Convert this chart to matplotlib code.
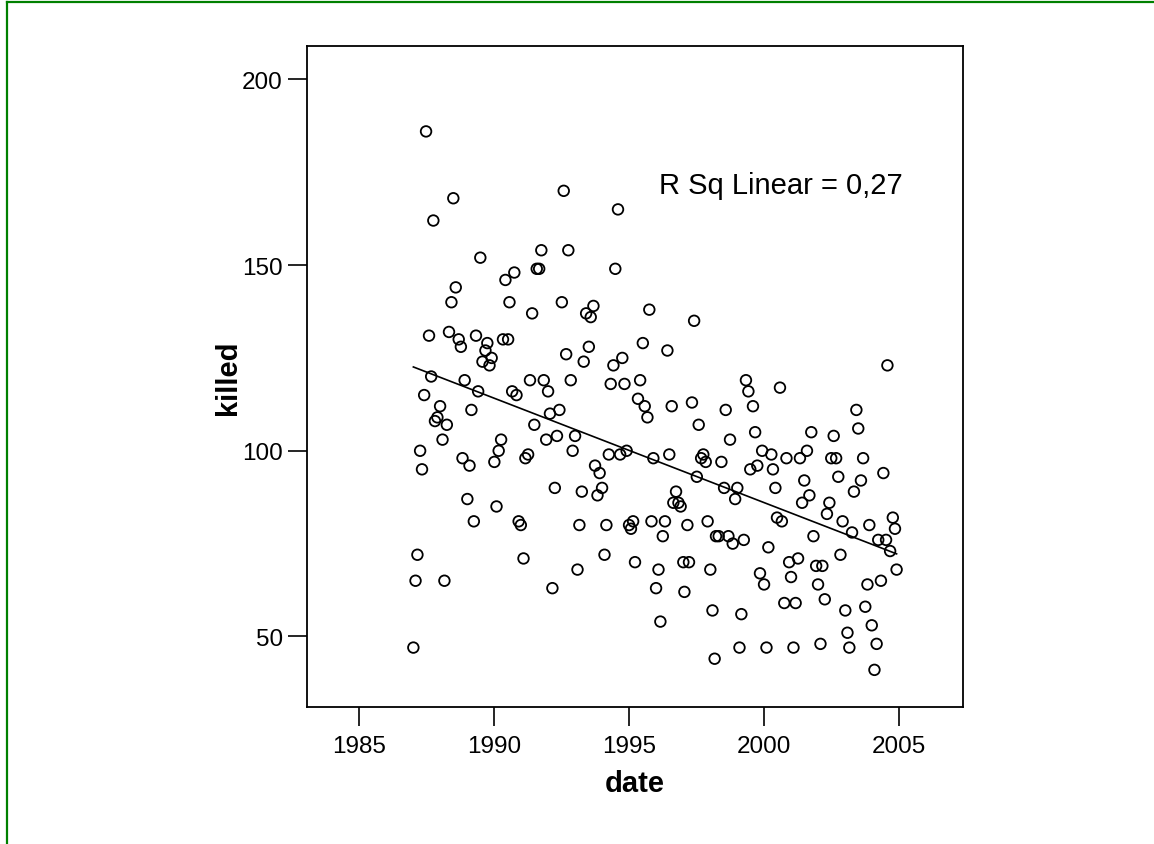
import numpy as np
import matplotlib
matplotlib.use("Agg")
import matplotlib.pyplot as plt
from matplotlib.lines import Line2D

plt.rcParams['font.family'] = ['Liberation Sans', 'DejaVu Sans']

# ---- data ----
date = [
    1987.48, 1988.49, 1987.75, 1992.58, 1994.59, 1989.49, 1991.75, 1992.75, 1991.58, 1991.67,
    1994.49, 1988.58, 1990.42, 1990.75, 1988.42, 1990.57, 1992.51, 1991.41, 1993.41, 1993.68,
    1993.58, 1987.59, 1988.33, 1988.69, 1988.77, 1989.33, 1989.75, 1989.68, 1989.91, 1989.57,
    1989.83, 1990.33, 1990.52, 1992.67, 1993.51, 1993.32, 1994.42, 1994.75,
    1995.75, 1997.41, 1995.51, 1996.42, 2004.57,
    1987.67, 1987.41, 1988.00, 1987.90, 1987.81, 1988.25, 1988.09, 1987.26, 1987.33, 1987.16,
    1987.09, 1988.16, 1987.01, 1988.91, 1989.41, 1989.16, 1988.83, 1989.09, 1990.01, 1990.17,
    1990.26, 1989.01, 1990.09, 1989.25, 1990.67, 1990.83, 1991.33, 1991.84, 1992.00, 1992.84,
    1991.49, 1992.07, 1992.42, 1991.93, 1992.33, 1993.00, 1992.91, 1991.26, 1991.16, 1992.25,
    1993.25, 1993.74, 1993.91, 1994.00, 1993.83, 1994.25, 1994.67, 1994.91, 1990.91, 1990.99,
    1993.16, 1994.16, 1995.00, 1995.15, 1995.07, 1991.09, 1994.09, 1995.22, 1993.09, 1992.16,
    1994.32, 1994.83,
    1995.41, 1999.33, 1999.42, 2000.59, 1995.33, 1995.58, 1995.68, 1996.58, 1997.33, 1997.58,
    1998.58, 1999.59, 1998.74, 1999.67, 2003.42, 2003.49, 2001.75, 2002.58, 1995.90, 1996.49,
    1997.67, 1997.75, 1997.84, 1998.42, 1999.93, 2000.27, 2000.83, 2001.33, 2001.59, 2002.49,
    2002.67, 2003.67, 1999.49, 1999.75, 2000.33, 2001.49, 2002.75, 2003.59, 2004.42, 1997.51,
    1998.52, 1999.01, 1998.93, 2000.42, 2001.68, 2001.41, 2003.33, 2002.42, 2002.33, 1996.74,
    1996.64, 1996.83, 1996.91, 1995.83, 1996.33, 1996.25, 1997.16, 1997.91, 1998.22, 1998.32,
    1998.68, 1998.84, 1999.25, 2000.16, 2000.48, 2000.66, 2001.83, 2002.91, 2003.26, 2003.90,
    2004.23, 2004.52, 2004.67, 2004.77, 2004.85, 2004.91, 1996.09, 1996.00, 1996.16, 1997.01,
    1997.22, 1997.05, 1998.01, 1998.09, 1998.17, 1999.16, 1999.09, 2000.09, 2001.09, 2002.09,
    2003.16, 2004.17, 2004.09, 2003.09, 2003.99, 2003.75, 2003.01, 2002.25, 2000.75, 2001.17,
    1999.85, 2000.00, 2000.93, 2001.26, 2001.00, 2001.93, 2002.16, 2002.00, 2002.83, 2003.83,
    2004.33,
]
killed = [
    186, 168, 162, 170, 165, 152, 154, 154, 149, 149,
    149, 144, 146, 148, 140, 140, 140, 137, 137, 139,
    136, 131, 132, 130, 128, 131, 129, 127, 125, 124,
    123, 130, 130, 126, 128, 124, 123, 125,
    138, 135, 129, 127, 123,
    120, 115, 112, 109, 108, 107, 103, 100, 95, 72,
    65, 65, 47, 119, 116, 111, 98, 96, 97, 100,
    103, 87, 85, 81, 116, 115, 119, 119, 116, 119,
    107, 110, 111, 103, 104, 104, 100, 99, 98, 90,
    89, 96, 94, 90, 88, 99, 99, 100, 81, 80,
    80, 80, 80, 81, 79, 71, 72, 70, 68, 63,
    118, 118,
    119, 119, 116, 117, 114, 112, 109, 112, 113, 107,
    111, 112, 103, 105, 111, 106, 105, 104, 98, 99,
    98, 99, 97, 97, 100, 99, 98, 98, 100, 98,
    98, 98, 95, 96, 95, 92, 93, 92, 94, 93,
    90, 90, 87, 90, 88, 86, 89, 86, 83, 89,
    86, 86, 85, 81, 81, 77, 80, 81, 77, 77,
    77, 75, 76, 74, 82, 81, 77, 81, 78, 80,
    76, 76, 73, 82, 79, 68, 68, 63, 54, 70,
    70, 62, 68, 57, 44, 56, 47, 47, 47, 48,
    47, 48, 41, 51, 53, 58, 57, 60, 59, 59,
    67, 64, 70, 71, 66, 69, 69, 64, 72, 64,
    65,
]
x_ticks = [1985, 1990, 1995, 2000, 2005]
y_ticks = [50, 100, 150, 200]
annotation = "R Sq Linear = 0,27"

# ---- figure ----
W, H = 1154, 845
fig = plt.figure(figsize=(W / 100, H / 100), dpi=100)
ax = fig.add_axes([307 / W, 1 - 708 / H, (963 - 307) / W, (708 - 47) / H])

x = np.array(date)
y = np.array(killed)
ax.scatter(x, y, s=58, facecolors='none', edgecolors='black', linewidths=1.3, zorder=3)

slope, intercept = np.polyfit(x, y, 1)
xl = np.array([x.min(), x.max()])
ax.plot(xl, slope * xl + intercept, color='black', linewidth=1.2, zorder=2)

ax.set_xlim(1983.07, 2007.37)
ax.set_ylim(31, 209)
ax.set_xticks(x_ticks)
ax.set_yticks(y_ticks)
ax.tick_params(axis='both', direction='out', length=13.5, width=1.2, labelsize=17.5,
               colors='black')
ax.tick_params(axis='x', pad=7)
ax.tick_params(axis='y', pad=4)
for sp in ax.spines.values():
    sp.set_linewidth(1.3)
    sp.set_color('black')

ax.set_xlabel('date', fontsize=21, fontweight='bold', labelpad=8)
ax.set_ylabel('killed', fontsize=21, fontweight='bold', labelpad=0)

ax.text((659 - 307) / 656, (708 - 194) / 661, annotation, transform=ax.transAxes,
        fontsize=21, va='baseline', ha='left')

# green frame
g = '#008000'
fig.add_artist(Line2D([6.5 / W, 6.5 / W], [0, 1 - 3 / H], color=g, linewidth=1.6,
                      transform=fig.transFigure))
fig.add_artist(Line2D([6.5 / W, 1], [1 - 3 / H, 1 - 3 / H], color=g, linewidth=1.6,
                      transform=fig.transFigure))

fig.savefig('out.png', dpi=100)
